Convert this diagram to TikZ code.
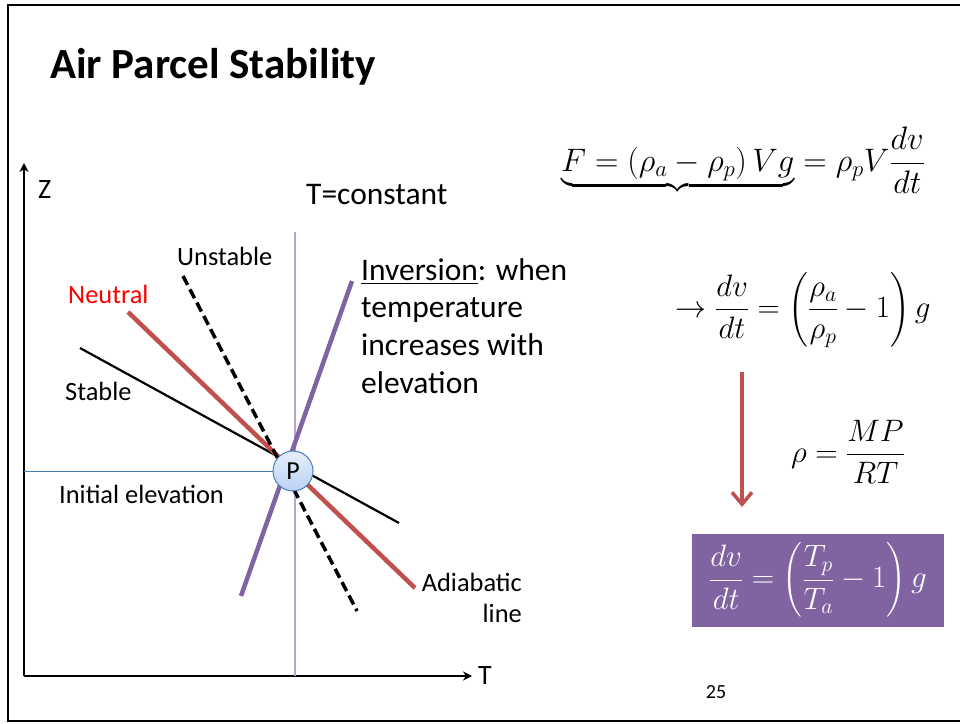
\RequirePackage{fix-cm}
\documentclass[tikz,border=0pt]{standalone}
\usepackage{amsmath}
\usepackage{fontspec}
\setmainfont{Carlito}
\usetikzlibrary{arrows.meta, positioning, calc}
\definecolor{rouge}{RGB}{192,80,77}
\definecolor{mauve}{RGB}{128,100,162}
\definecolor{lilas}{RGB}{180,165,210}
\definecolor{bleuP}{RGB}{74,126,187}
\definecolor{bleuclair}{RGB}{185,210,245}

\begin{document}
\begin{tikzpicture}[x=1pt, y=-1pt,
    axe/.style={line width=2.5pt, -{Stealth[length=9pt, width=9pt]}},
    etiquette/.style={font=\fontsize{26.4}{31}\selectfont, inner sep=0pt},
    texte/.style={font=\fontsize{31.5}{37.7}\selectfont, inner sep=0pt},
    eqn/.style={font=\fontsize{31}{37}\selectfont, inner sep=0pt}]
  \useasboundingbox (0,0) rectangle (960,723);
  % cadre de la diapo
  \draw[line width=2.5pt] (962,5) -- (8,5) -- (8,721) -- (962,721);
  \node[font=\fontsize{43}{50}\selectfont\bfseries, anchor=west, inner sep=0pt] (titre) at (50,67) {Air Parcel Stability};

  % axes
  \coordinate (origine) at (24,676);
  \coordinate (zHaut) at (24,163);
  \coordinate (tDroite) at (472,676);
  \draw[axe] (origine) -- (zHaut);
  \draw[axe] (origine) -- (tDroite);
  \node[etiquette, font=\fontsize{28}{34}\selectfont, anchor=west] (labelZ) at (38,190) {Z};
  \node[etiquette, font=\fontsize{28}{34}\selectfont, anchor=west] (labelT) at (478,676) {T};

  \coordinate (centreP) at (293,471);
  \coordinate (isoHaut) at (295,232);
  \coordinate (isoBas) at (295,676);
  \coordinate (zInit) at (24,471);
  \draw[lilas, line width=1.2pt] (isoHaut) -- (isoBas);
  \draw[bleuP, line width=1pt] (zInit) -- (centreP);

  % droites passant par P
  \coordinate (stableA) at (80,348);
  \coordinate (stableB) at (399,523);
  \coordinate (neutreA) at (128,312);
  \coordinate (neutreB) at (415,588);
  \coordinate (instableA) at (183,276);
  \coordinate (instableB) at (357,611);
  \coordinate (inversionA) at (352,281);
  \coordinate (inversionB) at (241,596);
  \draw[line width=2.2pt] (stableA) -- (stableB);
  \draw[rouge, line width=4.5pt] (neutreA) -- (neutreB);
  \draw[line width=3.5pt, dash pattern=on 10pt off 5pt] (instableA) -- (instableB);
  \draw[mauve, line width=4.5pt] (inversionA) -- (inversionB);
  \node[circle, draw=bleuP, line width=1pt, top color=bleuclair!35, bottom color=bleuclair,
        minimum size=40pt, inner sep=0pt, font=\fontsize{26}{30}\selectfont] (P) at (centreP) {P};

  \node[etiquette, anchor=west] (lblInstable) at (177,256) {Unstable};
  \node[etiquette, anchor=west, text=red] (lblNeutre) at (68,294) {Neutral};
  \node[etiquette, anchor=west] (lblStable) at (65,391) {Stable};
  \node[etiquette, anchor=west] (lblInit) at (59,494) {Initial elevation};
  \node[etiquette, anchor=north east, align=right] (lblAdiab) at (522,573) {Adiabatic\\line};
  \node[texte, anchor=west] (lblIso) at (306,195) {T=constant};
  \node[texte, anchor=north west, align=left] (lblInversion) at (361,258)
    {\underline{Inversion}: when\\temperature\\increases with\\elevation};

  % equations
  \node[eqn, font=\fontsize{32.5}{38}\selectfont] (force) at (743,167)
    {$\underbrace{F=\left(\rho_a-\rho_p\right)Vg}_{}=\rho_pV\dfrac{dv}{dt}$};
  \node[eqn] (accel) at (803,310)
    {$\rightarrow\dfrac{dv}{dt}=\left(\dfrac{\rho_a}{\rho_p}-1\right)g$};
  \node[eqn] (densite) at (848,452) {$\rho=\dfrac{MP}{RT}$};
  \node[eqn, fill=mauve, text=white, minimum width=252pt, minimum height=93pt] (resultat) at (818,580)
    {$\dfrac{dv}{dt}=\left(\dfrac{T_p}{T_a}-1\right)g$};
  \coordinate (flecheA) at (742,372);
  \coordinate (flecheB) at (742,507);
  \draw[rouge, line width=3.5pt, -{Straight Barb[length=12pt, width=20pt]}] (flecheA) -- (flecheB);

  \node[font=\fontsize{20}{24}\selectfont, inner sep=0pt] (numero) at (716,692) {25};
\end{tikzpicture}
\end{document}
